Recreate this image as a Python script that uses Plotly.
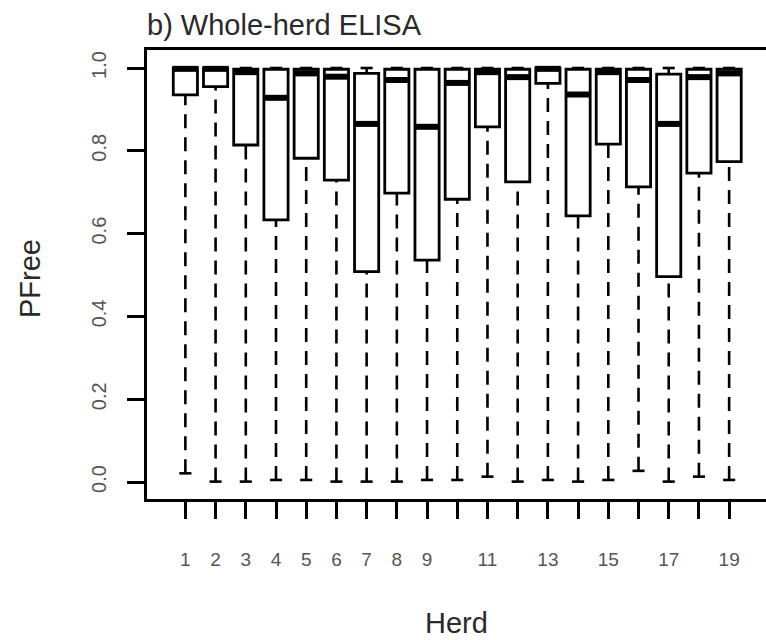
import plotly.graph_objects as go

herds = list(range(1, 20))
tick_text = ["1", "2", "3", "4", "5", "6", "7", "8", "9", "", "11", "", "13", "", "15", "", "17", "", "19"]
lower_whisker = [0.021, 0.001, 0.001, 0.005, 0.005, 0.001, 0.001, 0.001, 0.005, 0.005,
                 0.013, 0.001, 0.005, 0.001, 0.005, 0.027, 0.001, 0.013, 0.005]
q1 = [0.935, 0.955, 0.814, 0.633, 0.782, 0.729, 0.508, 0.698, 0.536, 0.683,
      0.858, 0.725, 0.963, 0.643, 0.816, 0.713, 0.496, 0.746, 0.774]
median = [0.998, 0.998, 0.990, 0.928, 0.987, 0.979, 0.865, 0.971, 0.858, 0.964,
          0.990, 0.978, 0.998, 0.936, 0.990, 0.971, 0.865, 0.978, 0.987]
q3 = [1.0, 1.0, 0.997, 0.997, 0.997, 0.997, 0.987, 0.997, 0.997, 0.997,
      0.997, 0.997, 1.0, 0.997, 0.997, 0.997, 0.985, 0.997, 0.997]
upper_whisker = [1.0] * 19
y_ticks = [0.0, 0.2, 0.4, 0.6, 0.8, 1.0]
y_tick_text = ["0.0", "0.2", "0.4", "0.6", "0.8", "1.0"]

BOX_W = 0.8
CAP_HALF = 0.2
MED_HALF = 0.42

fig = go.Figure()

# dashed whiskers
wx, wy = [], []
for h, lo, a, b, up in zip(herds, lower_whisker, q1, q3, upper_whisker):
    wx += [h, h, None]
    wy += [lo, a, None]
    if up > b:
        wx += [h, h, None]
        wy += [b, up, None]
fig.add_trace(go.Scatter(x=wx, y=wy, mode="lines",
                         line=dict(color="black", width=2.6, dash="14px,9px"),
                         hoverinfo="skip", showlegend=False))

# caps
cx, cy = [], []
for h, lo, up in zip(herds, lower_whisker, upper_whisker):
    cx += [h - CAP_HALF, h + CAP_HALF, None, h - CAP_HALF, h + CAP_HALF, None]
    cy += [lo, lo, None, up, up, None]
fig.add_trace(go.Scatter(x=cx, y=cy, mode="lines",
                         line=dict(color="black", width=2.6),
                         hoverinfo="skip", showlegend=False))

# boxes
fig.add_trace(go.Bar(x=herds, base=q1, y=[b - a for a, b in zip(q1, q3)],
                     width=BOX_W,
                     marker=dict(color="white", line=dict(color="black", width=2.8)),
                     hoverinfo="skip", showlegend=False))

# medians
mx, my = [], []
for h, m in zip(herds, median):
    mx += [h - MED_HALF, h + MED_HALF, None]
    my += [m, m, None]
fig.add_trace(go.Scatter(x=mx, y=my, mode="lines",
                         line=dict(color="black", width=6),
                         hoverinfo="skip", showlegend=False))

font_family = "Liberation Sans, Arial, sans-serif"

fig.update_layout(
    width=766, height=640,
    margin=dict(l=147, r=0, t=50, b=141),
    plot_bgcolor="white", paper_bgcolor="white",
    font=dict(family=font_family, color="#222"),
    showlegend=False,
    title=dict(text="b) Whole-herd ELISA", x=0, xref="paper", xanchor="left",
               y=1 - 25 / 640, yref="container", yanchor="middle",
               font=dict(size=29, color="#2a2a2a", family=font_family)),
    xaxis=dict(range=[-0.27, 20.22], tickmode="array", tickvals=herds, ticktext=tick_text,
               showgrid=False, zeroline=False, showline=True, linecolor="black", linewidth=3,
               mirror=True, ticks="outside", ticklen=17, tickwidth=3, tickcolor="black",
               tickfont=dict(size=19, color="#555"), ticklabelstandoff=24),
    yaxis=dict(range=[-0.041, 1.0435], tickmode="array", tickvals=y_ticks, ticktext=y_tick_text,
               showgrid=False, zeroline=False, showline=True, linecolor="black", linewidth=3,
               ticks="outside", ticklen=17, tickwidth=3, tickcolor="black", tickangle=-90,
               tickfont=dict(size=20, color="#555"), ticklabelstandoff=13),
    annotations=[
        dict(text="PFree", xref="paper", yref="paper", x=(30 - 147) / 619, y=0.49,
             xanchor="center", yanchor="middle", textangle=-90, showarrow=False,
             font=dict(size=29, color="#2a2a2a", family=font_family)),
        dict(text="Herd", xref="paper", yref="paper", x=0.5, y=(499 - 623) / 449,
             xanchor="center", yanchor="middle", showarrow=False,
             font=dict(size=29, color="#2a2a2a", family=font_family)),
    ],
)

fig.write_html("out.html")
